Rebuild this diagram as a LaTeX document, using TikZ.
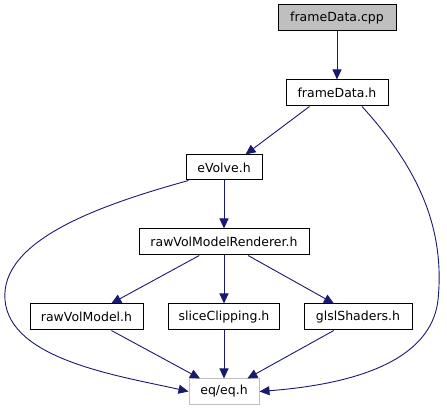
\documentclass[tikz,border=0pt]{standalone}
\usepackage{fontspec}
\setmainfont{DejaVu Sans}
\usetikzlibrary{arrows.meta}
\definecolor{edgecol}{HTML}{191970}
\definecolor{grayfill}{HTML}{BFBFBF}
\tikzset{
  file/.style={draw=black, line width=1pt, fill=white, rectangle, inner sep=0pt, font=\fontsize{12.5}{14}\selectfont, anchor=center},
  edge/.style={draw=edgecol, line width=0.9pt, -{Triangle[length=10pt,width=9pt]}}
}
\begin{document}
\begin{tikzpicture}[x=1pt,y=-1pt]
\useasboundingbox (0,0) rectangle (447,411);
\node[file, fill=grayfill, minimum width=118pt, minimum height=26pt] (cpp) at (337,18) {frameData.cpp};
\node[file, minimum width=102pt, minimum height=26pt] (fh) at (337,93) {frameData.h};
\node[file, minimum width=76pt, minimum height=25pt] (ev) at (224,167.5) {eVolve.h};
\node[file, minimum width=170pt, minimum height=26pt] (rvmr) at (224,242) {rawVolModelRenderer.h};
\node[file, minimum width=113pt, minimum height=26pt] (rvm) at (86.5,317) {rawVolModel.h};
\node[file, minimum width=111pt, minimum height=26pt] (sc) at (224,317) {sliceClipping.h};
\node[file, minimum width=108pt, minimum height=26pt] (gs) at (358,317) {glslShaders.h};
\node[file, draw=grayfill, minimum width=70pt, minimum height=25pt] (eq) at (224,391.5) {eq/eq.h};

\path (fh.south west) ++(24,0) coordinate (fhA);
\path (fh.south) ++(25,0) coordinate (fhB);
\path (ev.south west) ++(3,0) coordinate (evA);
\path (ev.north east) ++(-17,0) coordinate (evB);

\draw[edge] (cpp) -- (fh);
\draw[edge] (fhA) -- (evB);
\draw[edge] (fhB) .. controls (420,170) and (445,230) .. (438,300) .. controls (430,370) and (330,386) .. (eq.east);
\draw[edge] (evA) .. controls (100,205) and (0,240) .. (5,300) .. controls (10,360) and (120,376) .. (eq.west);
\draw[edge] (ev) -- (rvmr);
\draw[edge] (rvmr) -- (rvm);
\draw[edge] (rvmr) -- (sc);
\draw[edge] (rvmr) -- (gs);
\draw[edge] (rvm) -- (eq);
\draw[edge] (sc) -- (eq);
\draw[edge] (gs) -- (eq);
\end{tikzpicture}
\end{document}
